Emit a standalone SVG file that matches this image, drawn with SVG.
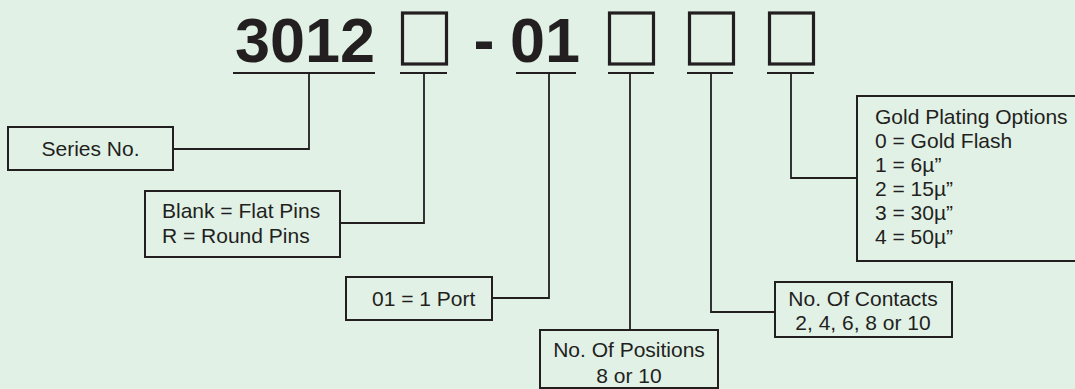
<svg xmlns="http://www.w3.org/2000/svg" width="1075" height="389" viewBox="0 0 1075 389">
<style>
.bg{fill:#e1f1e6}
.box{fill:none;stroke:#231f20;stroke-width:2}
.sq{fill:none;stroke:#231f20;stroke-width:3.2}
.ln{fill:none;stroke:#231f20;stroke-width:1.8}
.t{font-family:"Liberation Sans",Arial,sans-serif;font-size:21px;fill:#231f20}
.h{font-family:"Liberation Sans",Arial,sans-serif;font-size:63px;font-weight:bold;fill:#231f20}
</style>
<rect class="bg" x="0" y="0" width="1075" height="389"/>
<g id="title">
<text class="h" x="305" y="62" text-anchor="middle">3012</text>
<rect class="sq" x="402.5" y="13" width="44" height="51"/>
<text class="h" x="484" y="62" text-anchor="middle">-</text>
<text class="h" x="545" y="62" text-anchor="middle">01</text>
<rect class="sq" x="609.5" y="13" width="44" height="51"/>
<rect class="sq" x="689.5" y="13" width="44" height="51"/>
<rect class="sq" x="769.5" y="13" width="44" height="51"/>
</g>
<g id="connectors">
<line class="ln" x1="233" y1="73" x2="375" y2="73"/>
<line class="ln" x1="400" y1="73" x2="447" y2="73"/>
<line class="ln" x1="516" y1="73" x2="576" y2="73"/>
<line class="ln" x1="608" y1="73" x2="654" y2="73"/>
<line class="ln" x1="687" y1="73" x2="733" y2="73"/>
<line class="ln" x1="767" y1="73" x2="814" y2="73"/>
<polyline class="ln" points="309,73 309,149 173,149"/>
<polyline class="ln" points="424,73 424,223 340,223"/>
<polyline class="ln" points="549,73 549,298 492,298"/>
<polyline class="ln" points="630,73 630,330"/>
<polyline class="ln" points="711,73 711,312 775,312"/>
<polyline class="ln" points="791,73 791,178 857,178"/>
</g>
<g id="series">
<rect class="box" x="8" y="127" width="165" height="43"/>
<text class="t" x="90.5" y="156" text-anchor="middle">Series No.</text>
</g>
<g id="pins">
<rect class="box" x="145" y="191" width="195" height="66"/>
<text class="t" x="162" y="218">Blank = Flat Pins</text>
<text class="t" x="162" y="243">R = Round Pins</text>
</g>
<g id="port">
<rect class="box" x="346" y="277" width="146" height="43"/>
<text class="t" x="372" y="306">01 = 1 Port</text>
</g>
<g id="positions">
<rect class="box" x="540" y="330" width="178" height="58"/>
<text class="t" x="629" y="357" text-anchor="middle">No. Of Positions</text>
<text class="t" x="629" y="383" text-anchor="middle">8 or 10</text>
</g>
<g id="contacts">
<rect class="box" x="775" y="282" width="177" height="55"/>
<text class="t" x="863" y="306" text-anchor="middle">No. Of Contacts</text>
<text class="t" x="863" y="330" text-anchor="middle">2, 4, 6, 8 or 10</text>
</g>
<g id="gold">
<rect class="box" x="857" y="96" width="230" height="165"/>
<text class="t" x="875" y="124">Gold Plating Options</text>
<text class="t" x="875" y="148">0 = Gold Flash</text>
<text class="t" x="875" y="172">1 = 6µ”</text>
<text class="t" x="875" y="196">2 = 15µ”</text>
<text class="t" x="875" y="220">3 = 30µ”</text>
<text class="t" x="875" y="244">4 = 50µ”</text>
</g>
</svg>
